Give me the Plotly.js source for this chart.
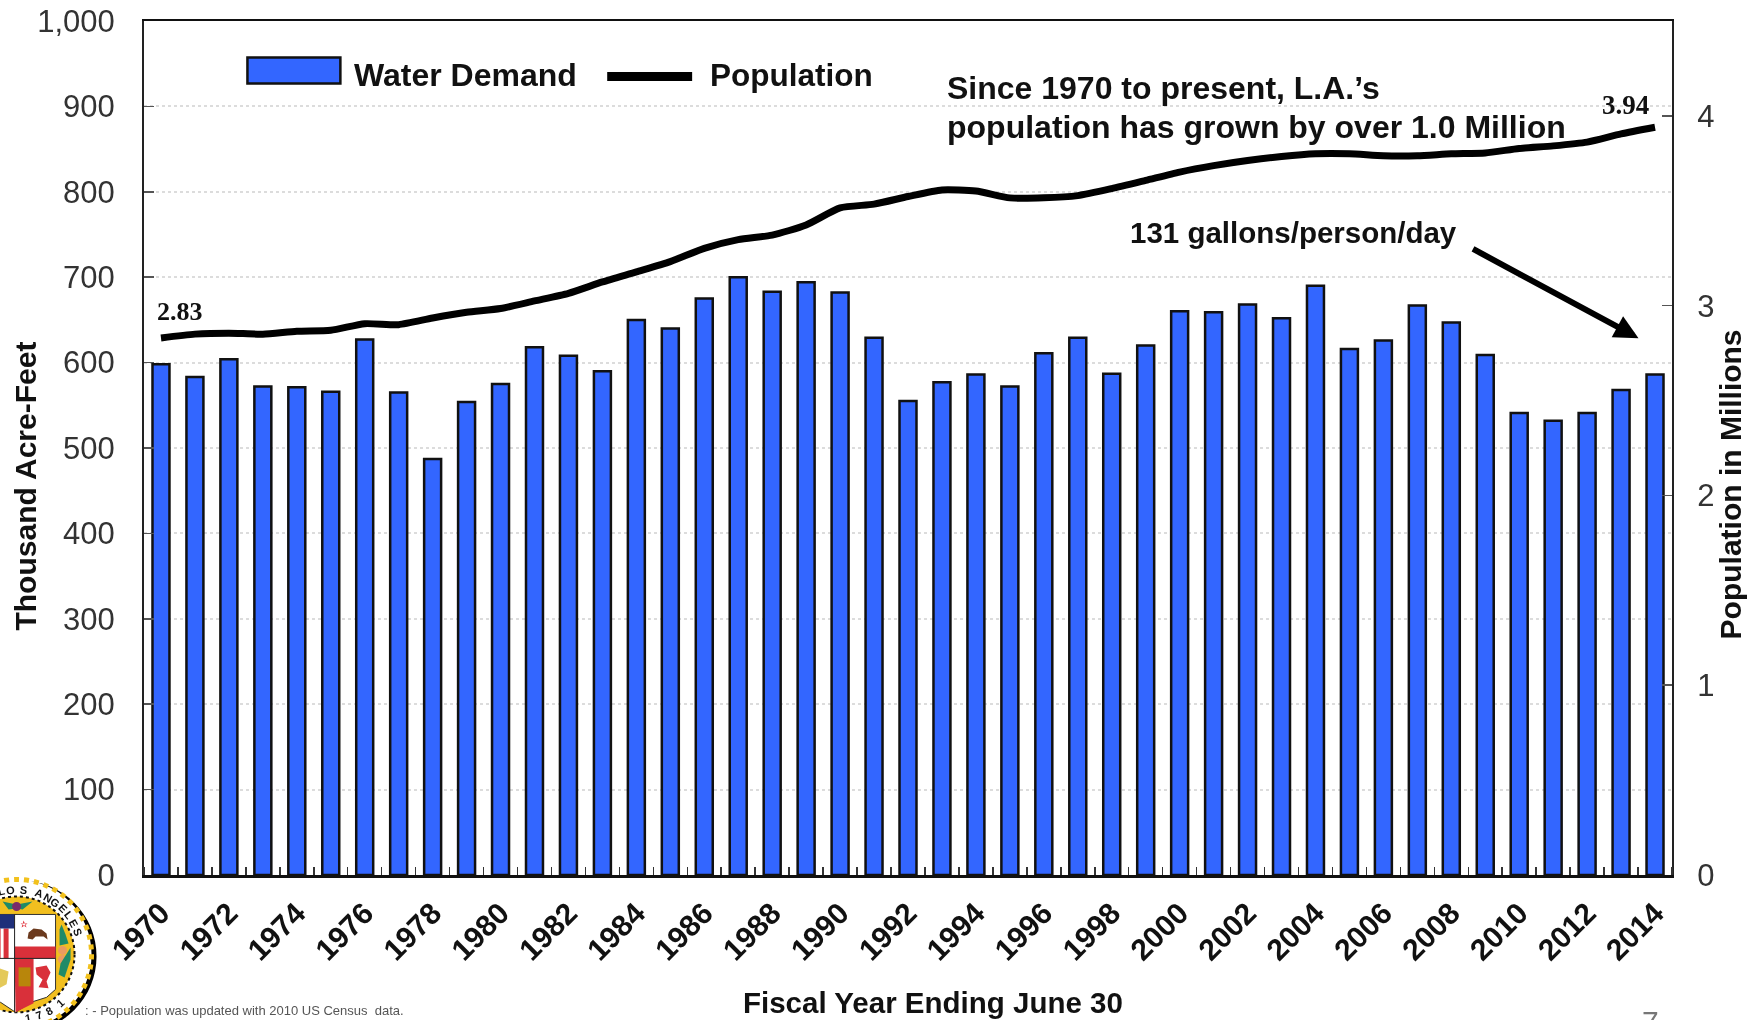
<!DOCTYPE html>
<html><head><meta charset="utf-8">
<style>html,body{margin:0;padding:0;background:#fff;overflow:hidden}#c{width:1755px;height:1020px;filter:blur(0.5px)}</style>
<script src="https://cdn.plot.ly/plotly-3.0.1.min.js"></script></head>
<body><div id="c"></div>
<script>
const years=[1970,1971,1972,1973,1974,1975,1976,1977,1978,1979,1980,1981,1982,1983,1984,1985,1986,1987,1988,1989,1990,1991,1992,1993,1994,1995,1996,1997,1998,1999,2000,2001,2002,2003,2004,2005,2006,2007,2008,2009,2010,2011,2012,2013,2014];
const waterDemand=[598,583,604,572,571,566,627,565,487,554,575,618,608,590,650,640,675,700,683,694,682,629,555,577,586,572,611,629,587,620,660,659,668,652,690,616,626,667,647,609,541,532,541,568,586];
const population=[2.83,2.85,2.855,2.85,2.865,2.87,2.905,2.9,2.935,2.965,2.985,3.025,3.065,3.125,3.178,3.232,3.302,3.348,3.372,3.425,3.515,3.535,3.575,3.61,3.604,3.568,3.568,3.58,3.617,3.66,3.704,3.738,3.765,3.786,3.8,3.8,3.79,3.79,3.8,3.805,3.828,3.842,3.862,3.905,3.94];
const leftTicks=[0,100,200,300,400,500,600,700,800,900,1000];
const rightTicks=[0,1,2,3,4];
const sealTop=[["L",-13],["O",-5],["S",6],["A",20],["N",29],["G",37],["E",45],["L",53],["E",61],["S",70]];
const sealBottom=[["1",170],["7",160],["8",150],["1",138]];

const L=143.5,R=1672.5,T=20.5,B=875.5;
const px=v=>(v-L)/(R-L), py=v=>(B-v)/(B-T);
const ARIAL='"Liberation Sans",Arial,sans-serif', TIMES='"Liberation Serif","Times New Roman",serif';
const BLUE='#3366ff';

function note(text,x,y,size,o={}){return Object.assign({xref:'paper',yref:'paper',x:px(x),y:py(y),text,showarrow:false,xanchor:'left',yanchor:'middle',
  font:{family:ARIAL,size,color:'#111',weight:'bold'}},o);}
function circ(cx,cy,r,fill,line,w,dash){return {type:'circle',xref:'paper',yref:'paper',x0:px(cx-r),x1:px(cx+r),y0:py(cy+r),y1:py(cy-r),fillcolor:fill,
  line:{color:line||fill,width:w||0,dash:dash||'solid'},layer:'above'};}
function poly(pts,fill,line,w){const p=pts.map((q,i)=>(i?'L':'M')+px(q[0])+','+py(q[1])).join(' ')+' Z';
  return {type:'path',xref:'paper',yref:'paper',path:p,fillcolor:fill,line:{color:line||fill,width:w||0},layer:'above'};}

const SX=16,SY=955;
const shieldPts=[[-40,915],[55,915],[55,990],[46,998],[30,1003],[15,1013],[0,1003],[-40,995]];
const shapes=[
  poly([[247,57],[340,57],[340,83],[247,83]],BLUE,'#111',2.5),
  {type:'line',xref:'paper',yref:'paper',x0:px(607),x1:px(692),y0:py(76),y1:py(76),line:{color:'#000',width:9},layer:'above'},
  circ(SX+4,SY+2,76,'#000'),
  circ(SX,SY,75,'#fff'),
  circ(SX,SY,75,'rgba(0,0,0,0)','#f2c11d',5,'dot'),
  circ(SX,SY,58,'#f2bf1f','#111',2,'dot'),
  poly(shieldPts,'#fff','#333',1),
  poly([[-5,929],[0,929],[0,959],[-5,959]],'#d9303a'),
  poly([[3,929],[8,929],[8,959],[3,959]],'#d9303a'),
  poly([[-40,915],[14,915],[14,929],[-40,929]],'#1f2f7a'),
  poly([[14,947],[55,947],[55,959],[14,959]],'#d9303a'),
  poly([[14,959],[33,959],[33,1004],[15,1013]],'#d9303a'),
  {type:'line',xref:'paper',yref:'paper',x0:px(14),x1:px(14),y0:py(915),y1:py(1013),line:{color:'#222',width:1},layer:'above'},
  {type:'line',xref:'paper',yref:'paper',x0:px(-40),x1:px(55),y0:py(959),y1:py(959),line:{color:'#222',width:1},layer:'above'},
  poly([[27,939],[28,933],[33,929],[41,930],[46,934],[47,940],[43,937],[35,937],[32,940]],'#6b3a1e'),
  poly([[23,921],[26,928],[20,924],[27,924],[21,928]],'#e0303a'),
  poly([[18,968],[30,968],[30,987],[18,987]],'#b8860b'),
  poly([[35,968],[46,966],[50,973],[46,982],[48,989],[38,988],[42,980],[36,975]],'#d9303a'),
  poly([[-4,968],[8,972],[6,985],[-4,990]],'#e4c95a'),
  circ(62,951,4.5,'#eb9b60'),
  circ(62,960,4.5,'#eb9b60'),
  poly([[59,946],[59,930],[61,925],[65,935],[68,944]],'#1f8a68'),
  poly([[70,948],[70,960],[64,978],[58,975],[60,964]],'#1f8a68'),
  poly([[2,902],[16,905],[32,902],[22,910],[16,909],[8,910]],'#1f8a68'),
  circ(16,907,4.5,'#7a2a6a')
];

const sealLetter=(c,th,flip)=>{const a=th*Math.PI/180,r=65;
  return {xref:'paper',yref:'paper',x:px(SX+r*Math.sin(a)),y:py(SY-r*Math.cos(a)),text:c,showarrow:false,xanchor:'center',yanchor:'middle',
  textangle:flip?th-180:th,font:{family:ARIAL,size:11,color:'#111',weight:'bold'}};};

const annotations=[
  note('Water Demand',352,75,32),
  note('Population',708,75,31.5),
  note('Since 1970 to present, L.A.’s',945,88,32),
  note('population has grown by over 1.0 Million',945,127,32),
  note('131 gallons/person/day',1128,232,29.5),
  note('2.83',155,311,26,{font:{family:TIMES,size:26,color:'#111',weight:'bold'}}),
  note('3.94',1600,105,27,{font:{family:TIMES,size:27,color:'#111',weight:'bold'}}),
  note('Thousand Acre-Feet',25,486,30,{textangle:-90,xanchor:'center'}),
  note('Population in Millions',1731,484,30,{textangle:-90,xanchor:'center'}),
  note('Fiscal Year Ending June 30',933,1003,29.5,{xanchor:'center'}),
  note(': - Population was updated with 2010 US Census  data.',82,1011,13,{font:{family:ARIAL,size:13,color:'#555'}}),
  note('7',1640,1004,30,{yanchor:'top',font:{family:ARIAL,size:30,color:'#777'}}),
  {xref:'paper',yref:'paper',axref:'pixel',ayref:'pixel',x:px(1639),y:py(338),ax:-167,ay:-90,text:'',showarrow:true,arrowhead:2,arrowsize:0.8,arrowwidth:6,arrowcolor:'#000'}
].concat(sealTop.map(q=>sealLetter(q[0],q[1],false)),sealBottom.map(q=>sealLetter(q[0],q[1],true)));

const tickFont={family:ARIAL,size:31,color:'#333'};
const traces=[
  {type:'bar',name:'Water Demand',x:years,y:waterDemand,width:0.5,marker:{color:BLUE,line:{color:'#111',width:2.5}},yaxis:'y'},
  {type:'scatter',mode:'lines',name:'Population',x:years,y:population,yaxis:'y2',line:{color:'#000',width:7,shape:'spline',smoothing:0.6}}
];
const layout={
  width:1755,height:1020,showlegend:false,paper_bgcolor:'#fff',plot_bgcolor:'#fff',
  margin:{l:L,r:1755-R,t:T,b:1020-B,pad:0,autoexpand:false},
  xaxis:{type:'linear',range:[1969.5,2014.5],tickmode:'array',tickvals:years.filter(y=>y%2===0),ticktext:years.filter(y=>y%2===0).map(String),
    tickangle:-45,ticks:'',ticklabelstandoff:6,tickfont:{family:ARIAL,size:30,color:'#111',weight:'bold'},showgrid:false,zeroline:false,
    minor:{tick0:1969.5,dtick:1,ticks:'inside',ticklen:8,tickcolor:'#333',tickwidth:1.5,showgrid:false},
    showline:true,linecolor:'#111',linewidth:2.5,mirror:true,automargin:false},
  yaxis:{range:[0,1000],tickmode:'array',tickvals:leftTicks,ticktext:leftTicks.map(v=>v.toLocaleString('en-US')),ticks:'inside',ticklen:10,tickcolor:'#555',tickwidth:1.5,
    ticklabelstandoff:21,tickfont:tickFont,showgrid:true,gridcolor:'#dcdcdc',griddash:'dot',gridwidth:2,zeroline:false,showline:true,linecolor:'#222',linewidth:2,automargin:false},
  yaxis2:{range:[0,4.5],overlaying:'y',side:'right',tickmode:'array',tickvals:rightTicks,ticktext:rightTicks.map(String),ticks:'inside',ticklen:10,tickcolor:'#555',tickwidth:1.5,
    ticklabelstandoff:17,tickfont:tickFont,showgrid:false,zeroline:false,showline:true,linecolor:'#222',linewidth:2,automargin:false},
  shapes,annotations
};
Plotly.newPlot('c',traces,layout,{staticPlot:true,displayModeBar:false});
</script></body></html>
